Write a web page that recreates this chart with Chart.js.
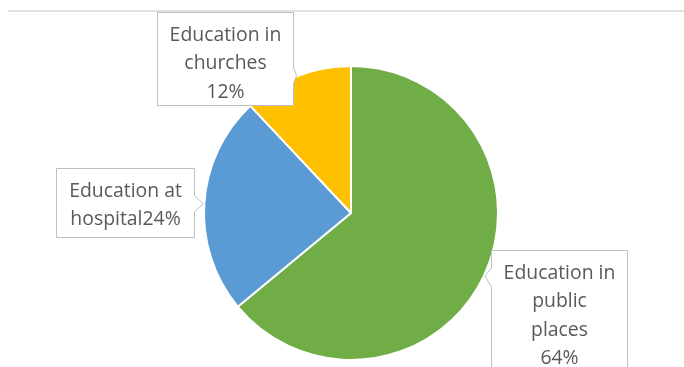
<!DOCTYPE html>
<html lang="en">
<head>
<meta charset="UTF-8">
<script src="https://cdn.jsdelivr.net/npm/chart.js"></script>
<title>Education places</title>
<style>
  html, body { margin: 0; padding: 0; background: #fff; }
  #wrap { position: relative; width: 684px; height: 367px; }
</style>
</head>
<body>
<div id="wrap"><canvas id="pie" width="684" height="367"></canvas></div>
<script>
// Data
var categories = ['Education in public places', 'Education at hospital', 'Education in churches'];
var shares = [64, 24, 12];
var calloutText = [
  ['Education in', 'public', 'places', '64%'],
  ['Education at', 'hospital24%'],
  ['Education in', 'churches', '12%']
];
var sliceColors = ['#70AD47', '#5B9BD5', '#FFC000'];

// box placement relative to the pointer tip (tip = slice middle on the rim)
var boxPos = [
  { side: 'left',  dx: 6,    dy: -26, w: 136, h: 140 },
  { side: 'right', dx: -147, dy: -36, w: 138, h: 69 },
  { side: 'right', dx: -140, dy: -63, w: 136, h: 93 }
];

var callouts = {
  id: 'callouts',
  afterDraw: function (chart) {
    var ctx = chart.ctx;
    // chart frame top line
    ctx.save();
    ctx.strokeStyle = '#d9d9d9';
    ctx.lineWidth = 1.5;
    ctx.beginPath();
    ctx.moveTo(8, 11);
    ctx.lineTo(684, 11);
    ctx.stroke();

    var meta = chart.getDatasetMeta(0);
    meta.data.forEach(function (arc, i) {
      var p = arc.getProps(['x', 'y', 'startAngle', 'endAngle', 'outerRadius'], true);
      var mid = (p.startAngle + p.endAngle) / 2;
      var tx = p.x + Math.cos(mid) * (p.outerRadius + 1);
      var ty = p.y + Math.sin(mid) * (p.outerRadius + 1);
      var b = boxPos[i];
      var x0 = tx + b.dx, y0 = ty + b.dy;
      var x1 = x0 + b.w, y1 = y0 + b.h;
      var by = Math.min(Math.max(ty, y0 + 8), y1 - 8);
      x0 = Math.round(x0) + 0.5; x1 = Math.round(x1) + 0.5;
      y0 = Math.round(y0) + 0.5; y1 = Math.round(y1) + 0.5;

      ctx.beginPath();
      ctx.moveTo(x0, y0);
      ctx.lineTo(x1, y0);
      if (b.side === 'right') {
        ctx.lineTo(x1, by - 8);
        ctx.lineTo(tx, ty);
        ctx.lineTo(x1, by + 8);
      }
      ctx.lineTo(x1, y1);
      ctx.lineTo(x0, y1);
      if (b.side === 'left') {
        ctx.lineTo(x0, by + 11);
        ctx.lineTo(tx, ty);
        ctx.lineTo(x0, by - 8);
      }
      ctx.closePath();
      ctx.fillStyle = '#ffffff';
      ctx.fill();
      ctx.strokeStyle = '#bfbfbf';
      ctx.lineWidth = 1;
      ctx.stroke();

      ctx.fillStyle = '#595959';
      ctx.font = '19.4px "Open Sans"';
      ctx.textAlign = 'center';
      ctx.textBaseline = 'alphabetic';
      var cx = (x0 + x1) / 2;
      calloutText[i].forEach(function (t, k) {
        ctx.fillText(t, cx, y0 + 28 + k * 28.5);
      });
    });
    ctx.restore();
  }
};

new Chart(document.getElementById('pie'), {
  type: 'pie',
  data: {
    labels: categories,
    datasets: [{
      data: shares,
      backgroundColor: sliceColors,
      borderColor: '#ffffff',
      borderWidth: 2
    }]
  },
  options: {
    responsive: false,
    animation: false,
    radius: 147,
    layout: { padding: { left: 18, right: 0, top: 59, bottom: 0 } },
    plugins: {
      legend: { display: false },
      tooltip: { enabled: false }
    }
  },
  plugins: [callouts]
});
</script>
</body>
</html>
